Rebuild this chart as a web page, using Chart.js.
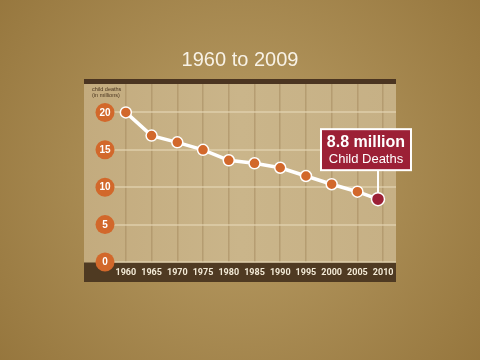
<!DOCTYPE html>
<html>
<head>
<meta charset="utf-8">
<title>Child deaths 1960 to 2009</title>
<script src="https://cdn.jsdelivr.net/npm/chart.js@4.4.1/dist/chart.umd.min.js"></script>
<style>
    html, body { margin: 0; padding: 0; background: #a5874f; }
    #chart { display: block; }
</style>
</head>
<body>
<canvas id="chart" width="480" height="360"></canvas>
<script>
// Data
const years = [1960, 1965, 1970, 1975, 1980, 1985, 1990, 1995, 2000, 2005, 2009];
const deaths = [20, 16.9, 16.0, 15.0, 13.6, 13.2, 12.6, 11.5, 10.4, 9.4, 8.4];
const xTicks = [1960, 1965, 1970, 1975, 1980, 1985, 1990, 1995, 2000, 2005, 2010];
const yTicks = [0, 5, 10, 15, 20];
const titleText = '1960 to 2009';
const axisTitle = ['child deaths', '(in millions)'];
const calloutLines = ['8.8 million', 'Child Deaths'];

const ORANGE = '#d2682b';
const DARK_RED = '#9c2036';

document.addEventListener('DOMContentLoaded', function () {
    initChart();
});

// Background, panel, bands and title
const decorPlugin = {
    id: 'decor',
    beforeDraw(chart) {
        const ctx = chart.ctx;
        const { left, right, top, bottom } = chart.chartArea;
        ctx.save();

        const g = ctx.createRadialGradient(240, 175, 20, 240, 175, 330);
        g.addColorStop(0, '#b89c64');
        g.addColorStop(1, '#93733a');
        ctx.fillStyle = g;
        ctx.fillRect(0, 0, chart.width, chart.height);

        const px = left - 12;
        const panel = ctx.createLinearGradient(px, 0, right, 0);
        panel.addColorStop(0, '#c3ab7e');
        panel.addColorStop(0.5, '#cab58a');
        panel.addColorStop(1, '#c6b085');
        ctx.fillStyle = panel;
        ctx.fillRect(px, top - 5, right - px, bottom + 20 - (top - 5));

        // top bar
        ctx.fillStyle = '#4b3521';
        ctx.fillRect(px, top - 5, right - px, 5);

        // bottom band
        ctx.fillStyle = '#4f3a22';
        ctx.fillRect(px, bottom + 0.5, right - px, 19.5);

        // title
        ctx.fillStyle = '#f8f2e6';
        ctx.font = '20px "Liberation Sans", Arial, sans-serif';
        ctx.textAlign = 'center';
        ctx.textBaseline = 'middle';
        ctx.fillText(titleText, chart.width / 2, 60);

        // axis title
        ctx.fillStyle = '#4a3520';
        ctx.font = '5.5px "Liberation Sans", Arial, sans-serif';
        ctx.textAlign = 'left';
        ctx.fillText(axisTitle[0], px + 8, top + 5);
        ctx.fillText(axisTitle[1], px + 8, top + 11);

        ctx.restore();
    },
    beforeDatasetsDraw(chart) {
        const ctx = chart.ctx;
        const yScale = chart.scales.y;
        const { left } = chart.chartArea;
        ctx.save();

        // y tick badges
        yTicks.forEach(v => {
            const y = yScale.getPixelForValue(v);
            ctx.beginPath();
            ctx.arc(left + 9, y, 9.5, 0, Math.PI * 2);
            ctx.fillStyle = ORANGE;
            ctx.fill();
            ctx.fillStyle = '#ffffff';
            ctx.font = 'bold 10px "Liberation Sans", Arial, sans-serif';
            ctx.textAlign = 'center';
            ctx.textBaseline = 'middle';
            ctx.fillText(String(v), left + 9, y + 0.5);
        });

        // callout connector
        const pt = chart.getDatasetMeta(0).data[years.length - 1];
        ctx.strokeStyle = '#ffffff';
        ctx.lineWidth = 2;
        ctx.beginPath();
        ctx.moveTo(pt.x, pt.y - 29);
        ctx.lineTo(pt.x, pt.y);
        ctx.stroke();

        ctx.restore();
    },
    afterDraw(chart) {
        const ctx = chart.ctx;
        const pt = chart.getDatasetMeta(0).data[years.length - 1];
        const bw = 90, bh = 41;
        const bx = pt.x - 57;
        const by = pt.y - 29 - bh;
        ctx.save();

        ctx.fillStyle = DARK_RED;
        ctx.fillRect(bx, by, bw, bh);
        ctx.strokeStyle = '#ffffff';
        ctx.lineWidth = 2;
        ctx.strokeRect(bx, by, bw, bh);

        ctx.fillStyle = '#ffffff';
        ctx.textAlign = 'center';
        ctx.textBaseline = 'middle';
        ctx.font = 'bold 16px "Liberation Sans", Arial, sans-serif';
        ctx.fillText(calloutLines[0], bx + bw / 2, by + 13.5);
        ctx.font = '13px "Liberation Sans", Arial, sans-serif';
        ctx.fillText(calloutLines[1], bx + bw / 2, by + 30.5);

        ctx.restore();
    }
};

function initChart() {
    const ctx = document.getElementById('chart').getContext('2d');
    const last = years.length - 1;

    new Chart(ctx, {
        type: 'line',
        data: {
            datasets: [{
                data: years.map((y, i) => ({ x: y, y: deaths[i] })),
                borderColor: '#ffffff',
                borderWidth: 3.5,
                tension: 0,
                pointBackgroundColor: years.map((y, i) => i === last ? DARK_RED : ORANGE),
                pointBorderColor: '#ffffff',
                pointBorderWidth: 1.5,
                pointRadius: years.map((y, i) => i === last ? 6.5 : 5.5)
            }]
        },
        options: {
            responsive: false,
            animation: false,
            layout: { padding: { left: 96, right: 84, top: 84, bottom: 78 } },
            plugins: {
                legend: { display: false },
                tooltip: { enabled: false }
            },
            scales: {
                x: {
                    type: 'linear',
                    min: 1954.2,
                    max: 2012.5,
                    afterBuildTicks: axis => { axis.ticks = xTicks.map(v => ({ value: v })); },
                    afterFit: axis => { axis.height = 20; },
                    grid: { color: 'rgba(168,142,98,0.6)', lineWidth: 1.5, drawTicks: false },
                    border: { display: false },
                    ticks: {
                        color: '#f3ead6',
                        font: { family: 'Roboto', weight: 'bold', size: 9 },
                        padding: 5,
                        maxRotation: 0,
                        autoSkip: false,
                        callback: v => String(v)
                    }
                },
                y: {
                    min: 0,
                    max: 23.8,
                    afterBuildTicks: axis => { axis.ticks = yTicks.map(v => ({ value: v })); },
                    afterFit: axis => { axis.width = 0; },
                    grid: { color: 'rgba(228,214,180,0.6)', lineWidth: 2, drawTicks: false },
                    border: { display: false },
                    ticks: { display: false }
                }
            }
        },
        plugins: [decorPlugin]
    });
}
</script>
</body>
</html>
